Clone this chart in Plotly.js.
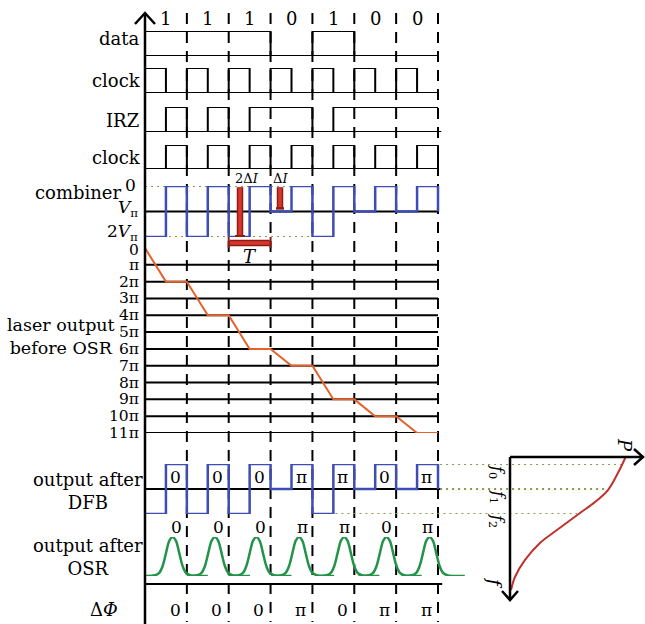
<!DOCTYPE html>
<html><head><meta charset="utf-8">
<script src="https://cdn.plot.ly/plotly-3.0.1.min.js"></script>
<style>html,body{margin:0;padding:0;background:#fff}#chart{width:645px;height:624px}</style>
</head><body><div id="chart"></div>
<script>
// ---- data (bit units on x; level units per row) ----
const bitLabels   = ['1','1','1','0','1','0','0'];
const bitEdges    = [0,1,2,3,4,5,6,7];
const dataLevel   = [1,1,1,0,1,0,0,0];
const halfT       = [0,0.5,1,1.5,2,2.5,3,3.5,4,4.5,5,5.5,6,6.5,7];
const clock1      = [1,0,1,0,1,0,1,0,1,0,1,0,1,0,0];
const irz         = [0,1,0,1,0,1,1,1,0,1,1,1,1,1,1];
const clock2      = [0,1,0,1,0,1,0,1,0,1,0,1,0,1,0];
const combiner    = [2,0,2,0,2,0,1,0,2,0,1,0,1,0,1];      // units of Vπ
const phase       = [0,2,2,4,4,6,6,7,7,9,9,10,10,11,11]; // units of π
const dfb         = [-1,1,-1,1,-1,1,0,1,-1,1,0,1,0,1,0];
const phaseTicks  = ['0','π','2π','3π','4π','5π','6π','7π','8π','9π','10π','11π'];
const dfbLabels   = ['0','0','0','π','π','0','π'];
const osrLabels   = ['0','0','0','π','π','0','π'];
const dPhiLabels  = ['0','0','0','π','0','π','π'];
const pulseCenters= [0.66,1.67,2.66,3.68,4.76,5.77,6.8];
const pulseDx     = [-0.67,-0.42,-0.32,-0.24,-0.16,-0.08,0,0.08,0.16,0.24,0.32,0.42,0.55,0.84];
const pulseDy     = [0,0.02,0.08,0.25,0.58,0.9,1,0.9,0.58,0.25,0.08,0.02,0,0];
const osrP        = [1.0,0.933,0.847,0.735,0.605,0.406,0.259,0.130,0.043,0.009];
const osrF        = [0,0.112,0.231,0.315,0.392,0.511,0.601,0.720,0.839,0.930];

// ---- geometry helpers ----
const W=645,H=624;
const px = p => p/W, py = p => 1 - p/H;
const x0px=145, bitPx=(438-145)/7;
const xOf = p => (p - x0px)/bitPx;
const FONT = 'DejaVu Serif';
const BLUE='#3d4db3', ORANGE='#e4632b', GREEN='#23934a', OLIVE='#8a9a4a', RED='#d8352b', DRED='#8e1c18';

const traces = [];
const L = (x,y,ya,color,w,shape,xa) => ({x,y,xaxis:xa||'x',yaxis:ya,mode:'lines',
  line:{color,width:w,shape:shape||'linear'},hoverinfo:'skip'});
traces.push(L(bitEdges,dataLevel,'y','#000',2,'hv'));
traces.push(L(halfT,clock1,'y2','#000',2,'hv'));
traces.push(L(halfT,irz,'y3','#000',2,'hv'));
traces.push(L(halfT,clock2,'y4','#000',2,'hv'));
traces.push(L(halfT,combiner,'y5',BLUE,2.5,'hv'));
traces.push(L(halfT,phase,'y6',ORANGE,2,'linear'));
traces.push(L(halfT,dfb,'y7',BLUE,2.5,'hv'));
pulseCenters.forEach(c=>{
  const t = L(pulseDx.map(d=>c+d),pulseDy,'y8',GREEN,2.5,'spline');
  t.line.smoothing=0.9; traces.push(t);
});
const cur = L(osrP,osrF,'y9','#c0302c',2,'spline','x2'); cur.line.smoothing=1; traces.push(cur);

// ---- shapes ----
const shapes=[];
const seg=(x0,x1,y0,y1,yref,color,w,dash,xref,layer)=>shapes.push({type:'line',xref:xref||'x',yref,x0,x1,y0,y1,
  layer:layer||'above',line:{color,width:w,dash:dash||'solid'}});
// separators / baselines
seg(0,7,0,0,'y','#000',2,null,null,'below');
seg(0,7,0,0,'y2','#000',2,null,null,'below');
seg(0,7.08,0,0,'y3','#000',2,null,null,'below');
seg(0,7,0,0,'y4','#000',2,null,null,'below');
seg(0,7,1,1,'y5','#000',2,null,null,'below');
for(let k=1;k<=11;k++) seg(0,7,k,k,'y6','#000',2,null,null,'below');
seg(0,7.08,0,0,'y7','#000',2,null,null,'below');
seg(0,7.1,py(584),py(584),'paper','#000',2,null,null,'below');
// bit boundaries (dashed)
bitEdges.slice(1).forEach(k=>seg(k,k,py(13),py(622),'paper','#000',2,'11px,8px',null,'below'));
// main vertical axis + arrow head
seg(0,0,py(624),py(13),'paper','#000',2.5);
shapes.push({type:'path',xref:'paper',yref:'paper',path:`M${px(135)},${py(24)} L${px(145)},${py(13)} L${px(155)},${py(24)}`,line:{color:'#000',width:2.5}});
// dotted guides
seg(0,4,0,0,'y5',OLIVE,2,'2px,4px',null,'below');
seg(0,4,2,2,'y5',OLIVE,2,'2px,4px',null,'below');
seg(7.05,xOf(623),1,1,'y7',OLIVE,2,'2px,4px',null,'below');
seg(7.05,xOf(608),0,0,'y7',OLIVE,2,'2px,4px',null,'below');
seg(4.55,xOf(577),-1,-1,'y7',OLIVE,2,'2px,4px',null,'below');
// red arrows
const redBar=(x0,x1,y0,y1,yref)=>{seg(x0,x1,y0,y1,yref,DRED,6.5);seg(x0,x1,y0,y1,yref,RED,3.5);};
redBar(xOf(240),xOf(240),0.05,1.97,'y5');
seg(xOf(235),xOf(245),1.97,1.97,'y5',DRED,2.5);
redBar(xOf(280),xOf(280),0.05,0.88,'y5');
seg(xOf(276),xOf(284),0.88,0.88,'y5',DRED,2.5);
redBar(2.02,2.98,py(243),py(243),'paper');
seg(2,2,py(237),py(248),'paper',DRED,2); seg(3,3,py(237),py(248),'paper',DRED,2);
// right panel axes
seg(px(510),px(643),py(457),py(457),'paper','#000',2.5,null,'paper');
seg(px(510),px(510),py(457),py(600),'paper','#000',2.5,null,'paper');
shapes.push({type:'path',xref:'paper',yref:'paper',path:`M${px(634)},${py(449)} L${px(643)},${py(457)} L${px(634)},${py(465)}`,line:{color:'#000',width:2.5}});
shapes.push({type:'path',xref:'paper',yref:'paper',path:`M${px(502)},${py(591)} L${px(510)},${py(600)} L${px(518)},${py(591)}`,line:{color:'#000',width:2.5}});

// ---- annotations ----
const anns=[];
const A=(text,x,y,o)=>anns.push(Object.assign({text,x,y,xref:'paper',yref:'paper',showarrow:false,
  xanchor:'center',yanchor:'middle',font:{family:FONT,size:18,color:'#000'}},o||{}));
const f=(s)=>({family:FONT,size:s,color:'#000'});
bitLabels.forEach((b,k)=>A(b,k+0.5,py(18),{xref:'x'}));
A('data',px(141),py(38),{xanchor:'right'});
A('clock',px(143),py(81),{xanchor:'right'});
A('IRZ',px(141),py(121),{xanchor:'right'});
A('clock',px(143),py(157),{xanchor:'right'});
A('combiner',px(124),py(192),{xanchor:'right'});
A('0',px(138),0,{yref:'y5',xanchor:'right',yshift:1,font:f(17)});
A('<i>V</i><sub>π</sub>',px(140),1,{yref:'y5',xanchor:'right',yshift:3,font:f(17)});
A('2<i>V</i><sub>π</sub>',px(140),2,{yref:'y5',xanchor:'right',yshift:5,font:f(17)});
phaseTicks.forEach((t,k)=>A(t,px(141),k,{yref:'y6',xanchor:'right',yshift:(k===0?-2:0),font:f(15.5)}));
A('laser output<br>before OSR',px(61),py(336),{align:'center',font:f(17.5)});
A('output after<br>DFB',px(88),py(491),{align:'center'});
A('output after<br>OSR',px(88),py(557),{align:'center'});
A('Δ<i>Φ</i>',px(104),py(609));
dfbLabels.forEach((t,k)=>A(t,k+0.73,0.48,{xref:'x',yref:'y7',font:f(17)}));
osrLabels.forEach((t,k)=>A(t,k+0.76,py(527),{xref:'x',font:f(17)}));
dPhiLabels.forEach((t,k)=>A(t,k+0.72,py(610),{xref:'x',font:f(17)}));
A('<i>T</i>',2.5,py(256),{xref:'x'});
A('2Δ<i>I</i>',xOf(247),py(178),{xref:'x',font:f(13)});
A('Δ<i>I</i>',xOf(280),py(178),{xref:'x',font:f(13)});
A('<i>f</i><sub>0</sub>',px(497),py(472),{textangle:90,font:f(16)});
A('<i>f</i><sub>1</sub>',px(497),py(497),{textangle:90,font:f(16)});
A('<i>f</i><sub>2</sub>',px(497),py(521),{textangle:90,font:f(16)});
A('<i>f</i>',px(495),py(583),{textangle:90});
A('<i>P</i>',px(625),py(445),{textangle:90});

const off={visible:false,fixedrange:true};
const layout={width:W,height:H,margin:{l:0,r:0,t:0,b:0},paper_bgcolor:'#fff',plot_bgcolor:'rgba(0,0,0,0)',
  showlegend:false,shapes,annotations:anns,
  xaxis:Object.assign({},off,{domain:[0,1],range:[xOf(0),xOf(W)],anchor:'y'}),
  yaxis: Object.assign({},off,{domain:[py(56),py(31)],range:[0,1],anchor:'x'}),
  yaxis2:Object.assign({},off,{domain:[py(93),py(68)],range:[0,1],anchor:'x'}),
  yaxis3:Object.assign({},off,{domain:[py(132),py(107)],range:[0,1],anchor:'x'}),
  yaxis4:Object.assign({},off,{domain:[py(169),py(145)],range:[0,1],anchor:'x'}),
  yaxis5:Object.assign({},off,{domain:[py(237),py(186)],range:[2,0],anchor:'x'}),
  yaxis6:Object.assign({},off,{domain:[py(433),py(248)],range:[11,0],anchor:'x'}),
  yaxis7:Object.assign({},off,{domain:[py(514),py(464)],range:[-1,1],anchor:'x'}),
  yaxis8:Object.assign({},off,{domain:[py(576),py(537)],range:[0,1],anchor:'x'}),
  xaxis2:Object.assign({},off,{domain:[px(510),px(643)],range:[0,1.15],anchor:'y9'}),
  yaxis9:Object.assign({},off,{domain:[py(600),py(457)],range:[1,0],anchor:'x2'})
};
Plotly.newPlot('chart',traces,layout,{staticPlot:true,displayModeBar:false});
</script></body></html>
